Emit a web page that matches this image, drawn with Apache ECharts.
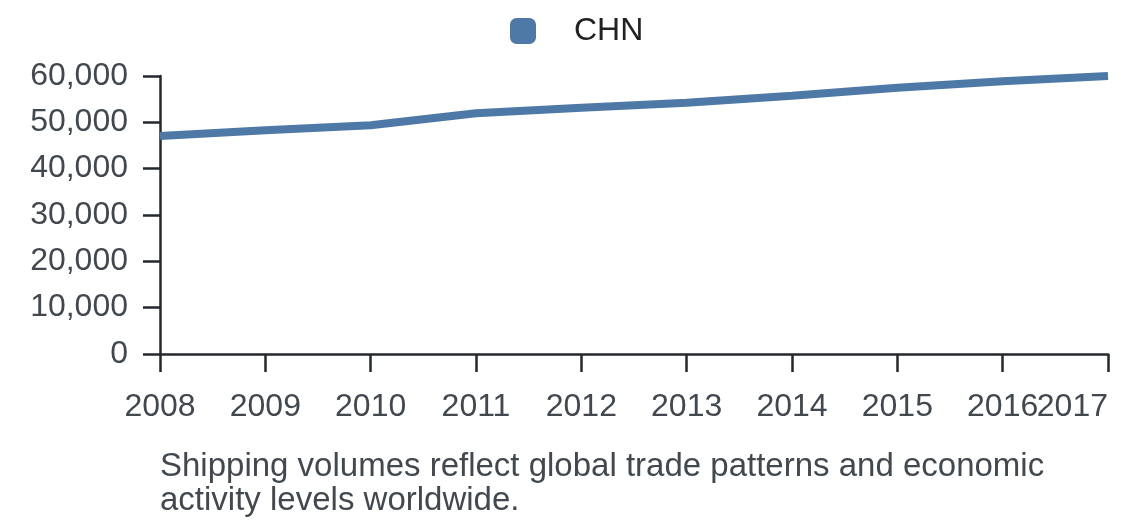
<!DOCTYPE html>
<html>
<head>
<meta charset="utf-8">
<script src="https://cdn.jsdelivr.net/npm/echarts@6/dist/echarts.min.js"></script>
<style>html,body{margin:0;padding:0;background:#fff}#c{width:1140px;height:528px}</style>
</head>
<body>
<div id="c"></div>
<script>
var years = ['2008','2009','2010','2011','2012','2013','2014','2015','2016','2017'];
var chnValues = [47050, 48280, 49360, 51950, 53160, 54240, 55750, 57470, 58860, 60000];
var seriesName = 'CHN';
var note = 'Shipping volumes reflect global trade patterns and economic\nactivity levels worldwide.';

var chart = echarts.init(document.getElementById('c'), null, {renderer: 'canvas'});
var font = 'Liberation Sans, Arial, sans-serif';
chart.setOption({
  animation: false,
  backgroundColor: '#ffffff',
  title: {
    text: note,
    left: 160,
    top: 450,
    padding: 0,
    textStyle: {fontFamily: font, fontSize: 33, fontWeight: 'normal', color: '#42484f', lineHeight: 34}
  },
  legend: {
    data: [{name: seriesName, icon: 'roundRect'}],
    left: 510,
    top: 15,
    padding: 0,
    itemWidth: 26,
    itemHeight: 26,
    textStyle: {fontFamily: font, fontSize: 32, color: '#222222', padding: [0, 0, 0, 33]}
  },
  grid: {left: 160, right: 32, top: 76, bottom: 174, containLabel: false},
  xAxis: {
    type: 'category',
    data: years,
    boundaryGap: false,
    axisLine: {show: true, lineStyle: {color: '#25282c', width: 2.5}},
    axisTick: {show: true, length: 18, alignWithLabel: true, lineStyle: {color: '#25282c', width: 2.5}},
    axisLabel: {fontFamily: font, fontSize: 32, color: '#42484f', margin: 37, alignMaxLabel: 'right', interval: 0},
    splitLine: {show: false}
  },
  yAxis: {
    type: 'value',
    min: 0,
    max: 60000,
    interval: 10000,
    axisLine: {show: true, lineStyle: {color: '#25282c', width: 2.5}},
    axisTick: {show: true, length: 17, lineStyle: {color: '#25282c', width: 2.5}},
    axisLabel: {fontFamily: font, fontSize: 32, color: '#42484f', margin: 32,
      formatter: function (v) { return v.toLocaleString('en-US'); }},
    splitLine: {show: false}
  },
  series: [{
    name: seriesName,
    type: 'line',
    data: chnValues,
    symbol: 'none',
    smooth: false,
    lineStyle: {color: '#4e79a7', width: 8},
    itemStyle: {color: '#4e79a7'}
  }]
});
</script>
</body>
</html>
